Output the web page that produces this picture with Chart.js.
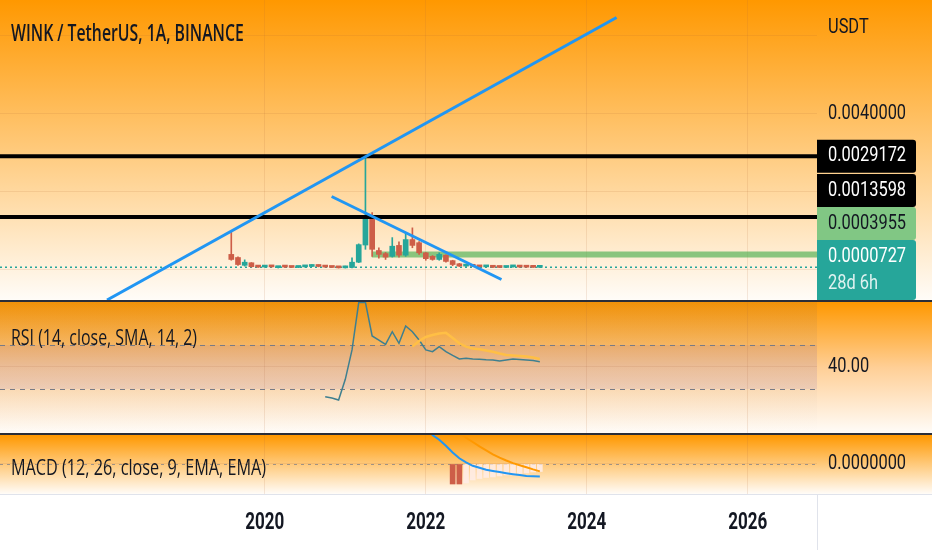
<!DOCTYPE html>
<html>
<head>
<meta charset="utf-8">
<script src="https://cdn.jsdelivr.net/npm/chart.js@4.4.0/dist/chart.umd.min.js"></script>
<style>
  html, body { margin: 0; padding: 0; background: #fff; }
  body { width: 932px; height: 550px; position: relative; overflow: hidden; }
  canvas { position: absolute; left: 0; }
  #main { top: 0; }
  #rsi { top: 302px; }
  #macd { top: 435px; }
  .sep { position: absolute; left: 0; width: 932px; height: 2px; background: #2a2e39; }
  .legend { position: absolute; left: 11px; color: #131722; white-space: nowrap; line-height: 24px;
            transform-origin: left center; font-family: "Open Sans", sans-serif; }
</style>
</head>
<body>
<canvas id="main" width="932" height="300"></canvas>
<div class="sep" style="top:300px"></div>
<canvas id="rsi" width="932" height="131"></canvas>
<div class="sep" style="top:433px"></div>
<canvas id="macd" width="932" height="115"></canvas>
<div class="legend" data-w="233" style="top:20px;font-size:23px;font-weight:600;">WINK / TetherUS, 1A, BINANCE</div>
<div class="legend" data-w="186" style="top:324px;font-size:22px;">RSI (14, close, SMA, 14, 2)</div>
<div class="legend" data-w="255" style="top:454px;font-size:22px;">MACD (12, 26, close, 9, EMA, EMA)</div>
<script>
// monthly candles, WINK/USDT on Binance
const months = ['2019-08','2019-09','2019-10','2019-11','2019-12',
  '2020-01','2020-02','2020-03','2020-04','2020-05','2020-06','2020-07','2020-08','2020-09','2020-10','2020-11','2020-12',
  '2021-01','2021-02','2021-03','2021-04','2021-05','2021-06','2021-07','2021-08','2021-09','2021-10','2021-11','2021-12',
  '2022-01','2022-02','2022-03','2022-04','2022-05','2022-06','2022-07','2022-08','2022-09','2022-10','2022-11','2022-12',
  '2023-01','2023-02','2023-03','2023-04','2023-05','2023-06'];

const opens = [0.000400,0.000320,0.000120,0.000185,0.000100,
  0.000075,0.000095,0.000060,0.000090,0.000085,0.000065,0.000080,0.000090,0.000120,0.000090,0.000080,0.000065,
  0.000055,0.000065,0.000200,0.000640,0.001360,0.000500,0.000420,0.000350,0.000630,0.000380,0.000780,0.000700,
  0.000440,0.000350,0.000270,0.000380,0.000240,0.000160,0.000100,0.000130,0.000095,0.000080,0.000090,0.000075,
  0.000065,0.000080,0.000085,0.000080,0.000075,0.000068];
const highs = [0.000980,0.000340,0.000260,0.000190,0.000110,
  0.000110,0.000115,0.000095,0.000100,0.000095,0.000090,0.000105,0.000135,0.000130,0.000095,0.000090,0.000075,
  0.000100,0.000310,0.000670,0.0029172,0.001470,0.000570,0.000450,0.000830,0.000720,0.000930,0.001080,0.000730,
  0.000450,0.000370,0.000440,0.000390,0.000250,0.000170,0.000130,0.000140,0.000100,0.000100,0.000095,0.000080,
  0.000090,0.000095,0.000090,0.000085,0.000080,0.000075];
const lows = [0.000250,0.000120,0.000100,0.000070,0.000065,
  0.000070,0.000070,0.000050,0.000060,0.000060,0.000060,0.000070,0.000085,0.000080,0.000070,0.000060,0.000050,
  0.000050,0.000055,0.000190,0.000530,0.000350,0.000300,0.000270,0.000330,0.000330,0.000350,0.000570,0.000400,
  0.000250,0.000250,0.000250,0.000200,0.000110,0.000090,0.000090,0.000090,0.000075,0.000075,0.000060,0.000060,
  0.000060,0.000075,0.000065,0.000070,0.000065,0.000067];
const closes = [0.000270,0.000140,0.000200,0.000085,0.000075,
  0.000095,0.000080,0.000080,0.000075,0.000065,0.000080,0.000095,0.000120,0.000090,0.000075,0.000065,0.000055,
  0.000085,0.000200,0.000650,0.001360,0.000530,0.000400,0.000330,0.000610,0.000380,0.000780,0.000630,0.000440,
  0.000290,0.000270,0.000400,0.000220,0.000140,0.000100,0.000115,0.000095,0.000080,0.000090,0.000070,0.000065,
  0.000080,0.000085,0.000075,0.000072,0.000068,0.0000727];

// RSI(14) and its SMA(14)
const rsi = [null,null,null,null,null,null,null,null,null,null,null,null,null,null,
  13.0,11.8,10.0,28.8,55.5,98.6,98.8,68.2,64.5,60.5,72.1,61.5,77.3,72.1,64.5,
  55.5,53.9,58.5,53.9,50.5,47.3,47.9,47.3,47.0,46.6,46.4,45.5,
  46.4,47.3,46.8,46.4,45.9,44.8];
const rsiMa = [null,null,null,null,null,null,null,null,null,null,null,null,null,null,
  null,null,null,null,null,null,null,null,null,null,null,null,null,58.5,63.6,
  67.3,69.1,70.5,71.2,66.4,61.5,58.5,56.8,56.1,55.0,53.9,52.3,
  50.9,50.5,50.0,49.5,48.6,47.3];

// MACD(12,26,9)
const macd = [null,null,null,null,null,null,null,null,null,null,null,null,null,null,
  null,null,null,null,null,null,null,null,null,null,null,null,null,0.000070,0.000055,
  0.000040,0.000029,0.0000242,0.0000182,0.0000115,0.0000057,0.0000016,-0.0000018,-0.0000038,-0.0000058,-0.0000070,-0.0000081,
  -0.0000092,-0.0000102,-0.0000111,-0.0000119,-0.0000122,-0.0000125];
const signal = [null,null,null,null,null,null,null,null,null,null,null,null,null,null,
  null,null,null,null,null,null,null,null,null,null,null,null,null,null,null,
  null,null,0.000048,0.000042,0.000036,0.000031,0.0000263,0.0000220,0.0000177,0.0000137,0.0000097,0.0000063,
  0.0000035,0.0000009,-0.0000012,-0.0000032,-0.0000054,-0.0000074];
const hist = [null,null,null,null,null,null,null,null,null,null,null,null,null,null,
  null,null,null,null,null,null,null,null,null,null,null,null,null,null,null,
  null,null,null,null,-0.0000200,-0.0000200,-0.0000190,-0.0000160,-0.0000145,-0.0000135,-0.0000130,-0.0000120,
  -0.0000110,-0.0000110,-0.0000095,-0.0000090,-0.0000080,-0.0000075];
const histFalling = [33, 34];

// drawings on the price pane (time in years, value in USDT)
const trendStartX = [2018.04, 2020.83];
const trendStartY = [-0.000769, 0.001884];
const trendEndX = [2024.37, 2022.94];
const trendEndY = [0.006471, -0.000243];
const levelValues = [0.0029172, 0.0013598];
const supportStartX = 2021.33;
const supportValue = 0.0003955;
const lastPrice = 0.0000727;

// axis ticks and right-hand price labels
const yearTicks = [2020, 2022, 2024, 2026];
const priceTicks = [0, 0.002, 0.004, 0.006];
const rsiTicks = [40];
const rsiBands = [60, 20];
const macdTicks = [0];
const priceLabelValues = [0.0029172, 0.0013598, 0.0003955, 0.0000727];
const priceLabelBg = ['#000000', '#000000', '#81c784', '#26a69a'];
const priceLabelFg = ['#ffffff', '#ffffff', '#131722', '#ffffff'];
const priceLabelSub = ['', '', '', '28d 6h'];

const X_MIN = 2016.71, X_MAX = 2026.86;
const UP = '#26a69a', DOWN = '#cd5e48';
const GRID = 'rgba(175,105,55,0.14)';
const TEXT = '#131722';
const AXIS_FONT = '20px Roboto';

const monthX = months.map(m => {
  const [y, mo] = m.split('-').map(Number);
  return y + (mo - 1) / 12;
});
const candleColors = opens.map((o, i) => closes[i] >= o ? UP : DOWN);

// legends are squeezed to the width they have on the screenshot
document.querySelectorAll('.legend').forEach(el => {
  el.style.transform = 'scaleX(' + (+el.dataset.w / el.offsetWidth).toFixed(3) + ')';
});

function squeezeText(ctx, text, x, y, font, color, align, sx) {
  ctx.save();
  ctx.font = font;
  ctx.fillStyle = color;
  ctx.textBaseline = 'middle';
  ctx.textAlign = align || 'left';
  ctx.translate(x, y);
  ctx.scale(sx || 0.82, 1);
  ctx.fillText(text, 0, 0);
  ctx.restore();
}

function xAxis(height) {
  return {
    type: 'linear', min: X_MIN, max: X_MAX, offset: false,
    afterBuildTicks: s => { s.ticks = yearTicks.map(v => ({ value: v })); },
    ticks: { display: false },
    grid: { color: GRID, drawTicks: false, offset: false },
    border: { display: false },
    afterFit: s => { s.height = height; }
  };
}

function yAxis(min, max, ticks) {
  return {
    type: 'linear', position: 'right', min: min, max: max,
    afterBuildTicks: s => { s.ticks = ticks.map(v => ({ value: v })); },
    ticks: { display: false },
    grid: { color: GRID, drawTicks: false },
    border: { display: false },
    afterFit: s => { s.width = 115; }
  };
}

// orange to white fade behind a pane, white under the time axis
function paneBg(stops, shade) {
  return {
    id: 'paneBg',
    beforeDraw(chart) {
      const { ctx, chartArea: a } = chart;
      const g = ctx.createLinearGradient(0, a.top, 0, a.bottom);
      stops.forEach(s => g.addColorStop(s[0], s[1]));
      ctx.save();
      ctx.fillStyle = g;
      ctx.fillRect(0, a.top, chart.width, a.bottom - a.top);
      if (shade) {
        // the plot area is a touch darker than the price scale next to it
        const sg = ctx.createLinearGradient(0, a.top, 0, a.bottom);
        sg.addColorStop(0, shade);
        sg.addColorStop(1, 'rgba(90,80,100,0)');
        ctx.fillStyle = sg;
        ctx.fillRect(a.left, a.top, a.right - a.left, a.bottom - a.top);
      }
      if (chart.height > a.bottom) {
        ctx.fillStyle = '#ffffff';
        ctx.fillRect(0, a.bottom, chart.width, chart.height - a.bottom);
      }
      ctx.restore();
    }
  };
}
const FADE = [[0, '#ff9800'], [1, '#fffcf8']];

const baseOptions = {
  responsive: false,
  animation: false,
  layout: { padding: 0 },
  plugins: { legend: { display: false }, tooltip: { enabled: false } },
  events: []
};

function lineSet(points, color, width, order, dash) {
  return {
    type: 'line', data: points, borderColor: color, borderWidth: width,
    borderDash: dash || [], pointRadius: 0, tension: 0, order: order, clip: 0
  };
}

// ---------- price pane ----------
const priceAxis = {
  id: 'priceAxis',
  afterDraw(chart) {
    const { ctx, chartArea: a } = chart;
    const s = chart.scales.y;
    const tx = a.right + 11;
    // stack the labels from the bottom up so they never overlap
    const boxes = [];
    let limit = a.bottom;
    const idx = priceLabelValues.map((v, i) => i).sort((p, q) => priceLabelValues[p] - priceLabelValues[q]);
    idx.forEach(i => {
      const extra = priceLabelSub[i] ? 27 : 0;
      const c = s.getPixelForValue(priceLabelValues[i]);
      const bottom = Math.min(c + 16.5 + extra, limit);
      const top = bottom - 33 - extra;
      limit = top;
      boxes.push({ i, top, bottom });
    });
    boxes.forEach(b => {
      ctx.save();
      ctx.fillStyle = priceLabelBg[b.i];
      ctx.beginPath();
      ctx.roundRect(a.right, b.top, 99, b.bottom - b.top, [0, 3, 3, 0]);
      ctx.fill();
      ctx.restore();
      squeezeText(ctx, priceLabelValues[b.i].toFixed(7), tx, b.top + 16.5, AXIS_FONT, priceLabelFg[b.i]);
      if (priceLabelSub[b.i]) {
        squeezeText(ctx, priceLabelSub[b.i], tx, b.top + 43.5, AXIS_FONT, 'rgba(255,255,255,0.85)');
      }
    });
    squeezeText(ctx, 'USDT', tx, 28, AXIS_FONT, TEXT);
    s.ticks.forEach(t => {
      const y = s.getPixelForValue(t.value);
      if (Math.abs(y - 28) < 22) return;
      if (boxes.some(b => y > b.top - 10 && y < b.bottom + 10)) return;
      squeezeText(ctx, t.value.toFixed(7), tx, y, AXIS_FONT, TEXT);
    });
  }
};

const mainDatasets = [
  {
    type: 'bar', data: months.map((m, i) => ({ x: monthX[i], y: [lows[i], highs[i]] })),
    backgroundColor: candleColors, barThickness: 1, grouped: false, order: 3
  },
  {
    type: 'bar', data: months.map((m, i) => ({ x: monthX[i], y: [opens[i], closes[i]] })),
    backgroundColor: candleColors, barThickness: 5, minBarLength: 2, grouped: false, order: 2
  },
  lineSet([{ x: X_MIN, y: lastPrice }, { x: X_MAX, y: lastPrice }], UP, 1.5, 5, [2, 3]),
  lineSet([{ x: supportStartX, y: supportValue }, { x: X_MAX, y: supportValue }], 'rgba(76,175,80,0.65)', 6, 4)
];
levelValues.forEach(v => {
  mainDatasets.push(lineSet([{ x: X_MIN, y: v }, { x: X_MAX, y: v }], '#000000', 4, 1));
});
trendStartX.forEach((x, i) => {
  mainDatasets.push(lineSet([{ x: x, y: trendStartY[i] }, { x: trendEndX[i], y: trendEndY[i] }], '#2196f3', 3, 0));
});

new Chart(document.getElementById('main'), {
  type: 'bar',
  data: { datasets: mainDatasets },
  options: Object.assign({}, baseOptions, {
    scales: { x: xAxis(0), y: yAxis(-0.000769, 0.00692, priceTicks) }
  }),
  plugins: [paneBg(FADE), priceAxis]
});

// ---------- RSI pane ----------
const rsiGuides = {
  id: 'rsiGuides',
  beforeDatasetsDraw(chart) {
    const { ctx, chartArea: a } = chart;
    const s = chart.scales.y;
    const y1 = s.getPixelForValue(rsiBands[0]), y2 = s.getPixelForValue(rsiBands[1]);
    ctx.save();
    ctx.fillStyle = 'rgba(126,87,194,0.1)';
    ctx.fillRect(a.left, y1, a.right - a.left, y2 - y1);
    ctx.strokeStyle = '#787b86';
    ctx.lineWidth = 1;
    ctx.setLineDash([5, 5]);
    [y1, y2].forEach(y => {
      ctx.beginPath();
      ctx.moveTo(a.left, Math.round(y) + 0.5);
      ctx.lineTo(a.right, Math.round(y) + 0.5);
      ctx.stroke();
    });
    ctx.restore();
  },
  afterDraw(chart) {
    const s = chart.scales.y;
    s.ticks.forEach(t => squeezeText(chart.ctx, t.value.toFixed(2), chart.chartArea.right + 11,
      s.getPixelForValue(t.value), AXIS_FONT, TEXT));
  }
};

new Chart(document.getElementById('rsi'), {
  type: 'line',
  data: {
    datasets: [
      lineSet(months.map((m, i) => ({ x: monthX[i], y: rsi[i] })), '#3f7f8f', 1.5, 1),
      lineSet(months.map((m, i) => ({ x: monthX[i], y: rsiMa[i] })), '#ffbf45', 2.5, 0)
    ]
  },
  options: Object.assign({}, baseOptions, {
    scales: { x: xAxis(0), y: yAxis(-20, 99.09, rsiTicks) }
  }),
  plugins: [paneBg([[0, '#ff9800'], [0.5, '#ffcf96'], [1, '#fffcf8']], 'rgba(90,80,100,0.09)'), rsiGuides]
});

// ---------- MACD pane + time axis ----------
const macdGuides = {
  id: 'macdGuides',
  beforeDatasetsDraw(chart) {
    const { ctx, chartArea: a } = chart;
    const y = Math.round(chart.scales.y.getPixelForValue(0)) + 0.5;
    ctx.save();
    ctx.strokeStyle = 'rgba(120,123,134,0.7)';
    ctx.lineWidth = 1;
    ctx.setLineDash([3, 4]);
    ctx.beginPath();
    ctx.moveTo(a.left, y);
    ctx.lineTo(a.right, y);
    ctx.stroke();
    ctx.restore();
  },
  afterDraw(chart) {
    const { ctx, chartArea: a } = chart;
    const s = chart.scales.y, xs = chart.scales.x;
    s.ticks.forEach(t => squeezeText(ctx, t.value.toFixed(7), a.right + 11, s.getPixelForValue(t.value), AXIS_FONT, TEXT));
    ctx.save();
    ctx.strokeStyle = '#e0e3eb';
    ctx.lineWidth = 1;
    ctx.beginPath();
    ctx.moveTo(0, a.bottom + 0.5);
    ctx.lineTo(chart.width, a.bottom + 0.5);
    ctx.moveTo(a.right + 0.5, a.bottom);
    ctx.lineTo(a.right + 0.5, chart.height);
    ctx.stroke();
    ctx.restore();
    xs.ticks.forEach(t => squeezeText(ctx, String(t.value), xs.getPixelForValue(t.value), a.bottom + 29,
      'bold 23px Roboto', TEXT, 'center', 0.74));
  }
};

new Chart(document.getElementById('macd'), {
  type: 'bar',
  data: {
    datasets: [
      {
        type: 'bar', data: months.map((m, i) => ({ x: monthX[i], y: hist[i] })),
        backgroundColor: months.map((m, i) => histFalling.includes(i) ? DOWN : 'rgba(255,236,230,0.9)'),
        barThickness: 5, grouped: false, order: 2
      },
      lineSet(months.map((m, i) => ({ x: monthX[i], y: signal[i] })), '#ff9800', 2, 1),
      lineSet(months.map((m, i) => ({ x: monthX[i], y: macd[i] })), '#2196f3', 2, 0)
    ]
  },
  options: Object.assign({}, baseOptions, {
    scales: { x: xAxis(56), y: yAxis(-0.000030, 0.000029, macdTicks) }
  }),
  plugins: [paneBg(FADE), macdGuides]
});
</script>
</body>
</html>
